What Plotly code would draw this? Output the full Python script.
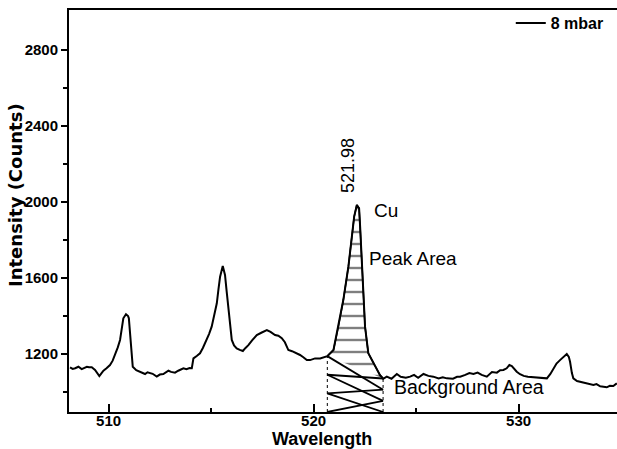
import numpy as np
import plotly.graph_objects as go

# ---- data ----
wavelength = [508.12, 508.25, 508.37, 508.53, 508.69, 508.80, 508.94, 509.05, 509.18, 509.34,
              509.45, 509.55, 509.65, 509.75, 509.90, 510.07, 510.20, 510.32, 510.45, 510.56,
              510.65, 510.72, 510.85, 510.95, 510.99, 511.08, 511.18, 511.35, 511.54, 511.65,
              511.78, 511.90, 512.02, 512.15, 512.35, 512.50, 512.67, 512.80, 512.92, 513.05,
              513.24, 513.40, 513.50, 513.65, 513.80, 513.95, 514.06, 514.14, 514.30, 514.46,
              514.60, 514.79, 514.90, 515.03, 515.15, 515.28, 515.36, 515.44, 515.57, 515.62,
              515.68, 515.76, 515.84, 515.92, 516.01, 516.12, 516.25, 516.40, 516.55, 516.68,
              516.82, 517.00, 517.23, 517.45, 517.72, 517.90, 518.12, 518.28, 518.45, 518.60,
              518.77, 518.95, 519.18, 519.34, 519.50, 519.67, 519.83, 520.07, 520.32, 520.48,
              520.67, 520.97, 521.21, 521.45, 521.70, 521.86, 521.98, 522.11, 522.22, 522.27,
              522.35, 522.43, 522.51, 522.67, 523.00, 523.24, 523.40, 523.57, 523.80, 524.06,
              524.25, 524.50, 524.71, 524.90, 525.10, 525.36, 525.60, 525.84, 526.10, 526.30,
              526.50, 526.80, 527.00, 527.15, 527.40, 527.60, 527.80, 528.00, 528.20, 528.45,
              528.70, 528.94, 529.10, 529.26, 529.42, 529.55, 529.67, 529.80, 529.91, 530.07,
              530.25, 530.45, 530.72, 530.90, 531.10, 531.38, 531.55, 531.70, 531.85, 532.02,
              532.20, 532.35, 532.45, 532.51, 532.60, 532.67, 532.85, 533.00, 533.20, 533.33,
              533.50, 533.65, 533.80, 533.98, 534.14, 534.30, 534.45, 534.62, 534.79]
counts = [1130, 1122, 1125, 1133, 1121, 1126, 1133, 1130, 1130, 1116,
          1100, 1084, 1098, 1112, 1125, 1142, 1165, 1195, 1235, 1274,
          1330, 1388, 1409, 1400, 1388, 1274, 1133, 1115, 1107, 1100,
          1095, 1104, 1102, 1096, 1081, 1092, 1095, 1104, 1112, 1106,
          1102, 1112, 1118, 1125, 1120, 1126, 1125, 1177, 1190, 1204,
          1232, 1274, 1305, 1344, 1400, 1467, 1540, 1607, 1663, 1640,
          1616, 1530, 1449, 1360, 1274, 1245, 1230, 1222, 1216, 1232,
          1247, 1272, 1300, 1312, 1326, 1316, 1300, 1296, 1283, 1262,
          1221, 1215, 1204, 1195, 1183, 1168, 1168, 1177, 1177, 1183,
          1189, 1221, 1344, 1484, 1661, 1817, 1923, 1984, 1967, 1870,
          1695, 1519, 1344, 1204, 1142, 1089, 1070, 1081, 1070, 1095,
          1080, 1075, 1081, 1090, 1075, 1095, 1085, 1081, 1072, 1078,
          1072, 1070, 1080, 1081, 1090, 1100, 1095, 1102, 1090, 1081,
          1105, 1102, 1115, 1116, 1125, 1142, 1137, 1118, 1107, 1094,
          1085, 1080, 1077, 1076, 1073, 1072, 1095, 1125, 1150, 1168,
          1185, 1200, 1185, 1159, 1100, 1072, 1058, 1054, 1050, 1046,
          1040, 1037, 1042, 1030, 1028, 1025, 1033, 1032, 1046]

series_name = "8 mbar"
peak_label = "521.98"
area_start, area_end = 520.67, 523.39
x_ticks = [510, 520, 530]
x_minor = [515, 525]
y_ticks = [1200, 1600, 2000, 2400, 2800]
y_minor = [1000, 1400, 1800, 2200, 2600]
x_range = [508.07, 534.8]
y_range = [895, 3010]

# ---- derived geometry ----
wl = np.array(wavelength)
ct = np.array(counts)
y_left = float(np.interp(area_start, wl, ct))
y_right = float(np.interp(area_end, wl, ct))
y_min = y_range[0]

mask = (wl > area_start) & (wl < area_end)
peak_x = [area_start] + list(wl[mask]) + [area_end]
peak_y = [y_left] + list(ct[mask]) + [y_right]

zx, zy = [], []
n_x = 3
for k in range(n_x):
    lt = y_left - (y_left - y_min) * k / n_x
    lb = y_left - (y_left - y_min) * (k + 1) / n_x
    rt = y_right - (y_right - y_min) * k / n_x
    rb = y_right - (y_right - y_min) * (k + 1) / n_x
    zx += [area_start, area_end, None, area_start, area_end, None]
    zy += [lt, rb, None, lb, rt, None]

fig = go.Figure()

# peak area hatch
fig.add_trace(go.Scatter(
    x=peak_x, y=peak_y, fill="toself", mode="lines",
    line=dict(color="black", width=1.5),
    fillcolor="white",
    fillpattern=dict(shape="-", size=12, fgcolor="black", bgcolor="white", solidity=0.2),
    showlegend=False, hoverinfo="skip"))

# background area cross lines
fig.add_trace(go.Scatter(
    x=zx, y=zy, mode="lines", line=dict(color="black", width=1.8),
    showlegend=False, hoverinfo="skip"))

# boundaries of background area
fig.add_trace(go.Scatter(
    x=[area_start, area_start, None, area_end, area_end],
    y=[y_min, y_left, None, y_min, y_right],
    mode="lines", line=dict(color="black", width=1, dash="dot"),
    showlegend=False, hoverinfo="skip"))

# spectrum
fig.add_trace(go.Scatter(
    x=wavelength, y=counts, mode="lines", name=series_name,
    line=dict(color="black", width=2)))

txt = dict(family="Liberation Sans, Arial, sans-serif", color="black")
fig.add_annotation(x=521.68, y=2189, text=peak_label, textangle=-90, showarrow=False,
                   font=dict(size=18, **txt))
fig.add_annotation(x=522.85, y=1953, text="Cu", xanchor="left", showarrow=False,
                   font=dict(size=19, **txt))
fig.add_annotation(x=522.61, y=1705, text="Peak Area", xanchor="left", showarrow=False,
                   font=dict(size=19, **txt))
fig.add_annotation(x=523.83, y=1026, text="Background Area", xanchor="left", showarrow=False,
                   font=dict(size=19.5, **txt))
fig.add_annotation(x=(322 - 69) / 548, xref="paper", y=(412 - 451) / 402, yref="paper",
                   text="<b>Wavelength</b>", showarrow=False, yanchor="bottom",
                   font=dict(size=18, **txt))
fig.add_annotation(x=(16 - 69) / 548, xref="paper", y=(412 - 195) / 402, yref="paper",
                   text="<b>Intensity (Counts)</b>", showarrow=False, textangle=-90,
                   xanchor="center", yanchor="middle",
                   font=dict(size=18, family="DejaVu Sans, sans-serif", color="black"))

fig.update_layout(
    width=617, height=449,
    margin=dict(l=69, r=0, t=10, b=37),
    paper_bgcolor="white", plot_bgcolor="white",
    font=dict(family="Liberation Sans, Arial, sans-serif", color="black"),
    showlegend=True,
    legend=dict(x=0.985, y=1.01, xanchor="right", yanchor="top",
                bgcolor="rgba(0,0,0,0)", font=dict(size=16, color="black",
                family="Liberation Sans, Arial, sans-serif", weight="bold")),
    xaxis=dict(range=x_range, tickvals=x_ticks, ticks="inside", ticklen=8, tickwidth=2,
               tickcolor="black", showline=True, linewidth=2, linecolor="black", mirror=True,
               showgrid=False, zeroline=False, ticklabelstandoff=-6,
               tickfont=dict(size=15, weight="bold"),
               minor=dict(tickvals=x_minor, ticks="inside", ticklen=4, tickwidth=2,
                          tickcolor="black", showgrid=False)),
    yaxis=dict(range=y_range, tickvals=y_ticks, ticks="outside", ticklen=6, tickwidth=2,
               tickcolor="black", showline=True, linewidth=2, linecolor="black", mirror=False,
               showgrid=False, zeroline=False,
               tickfont=dict(size=15, weight="bold"),
               minor=dict(tickvals=y_minor, ticks="outside", ticklen=4, tickwidth=2,
                          tickcolor="black", showgrid=False)),
)

fig.write_html("out.html")
